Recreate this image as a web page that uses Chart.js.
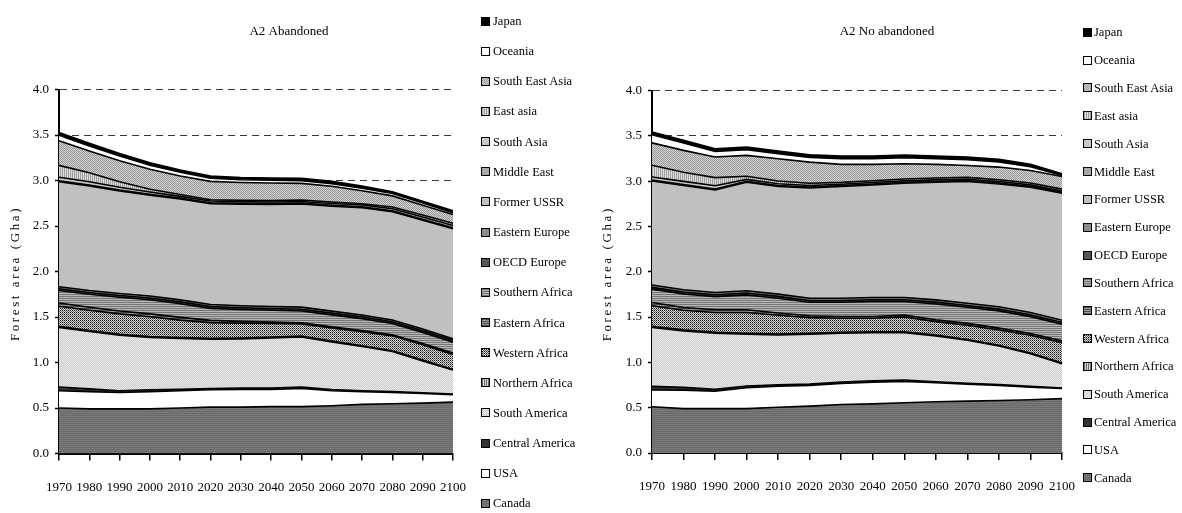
<!DOCTYPE html>
<html><head><meta charset="utf-8">
<script src="https://cdn.jsdelivr.net/npm/chart.js@4.4.1/dist/chart.umd.min.js"></script>
<style>
html,body{margin:0;padding:0;background:#fff;width:1182px;height:513px;overflow:hidden;position:relative;font-family:"Liberation Serif",serif;}
canvas{position:absolute;top:0;}
.lt{position:absolute;font-size:12.5px;line-height:14px;color:#000;white-space:nowrap;}
.sw{position:absolute;width:7px;height:7px;border:1px solid #000;}
</style></head><body>
<canvas id="c1" width="578" height="513" style="left:0px;width:578px;height:513px"></canvas>
<canvas id="c2" width="590" height="513" style="left:592px;width:590px;height:513px"></canvas>
<div id="leg"></div>
<script>
// ---------- DATA ----------
const years = ['1970','1980','1990','2000','2010','2020','2030','2040','2050','2060','2070','2080','2090','2100'];
const regions = ['Canada','USA','Central America','South America','Northern Africa','Western Africa','Eastern Africa','Southern Africa','OECD Europe','Eastern Europe','Former USSR','Middle East','South Asia','East asia','South East Asia','Oceania','Japan'];
const yTickValues = [0,0.5,1,1.5,2,2.5,3,3.5,4];
const chartTitles = ['A2 Abandoned','A2 No abandoned'];
const axisTitle = 'Forest area (Gha)';

// A2 Abandoned (Gha)
const abCanada         = [0.50,0.49,0.49,0.49,0.50,0.51,0.51,0.515,0.515,0.525,0.54,0.547,0.554,0.565];
const abUSA            = [0.19,0.19,0.18,0.19,0.19,0.19,0.195,0.19,0.20,0.165,0.14,0.124,0.106,0.081];
const abCentralAmerica = [0.04,0.03,0.02,0.02,0.015,0.015,0.015,0.015,0.015,0.012,0.01,0.01,0.008,0.006];
const abSouthAmerica   = [0.655,0.63,0.61,0.575,0.56,0.54,0.54,0.55,0.55,0.525,0.485,0.44,0.35,0.265];
const abNorthernAfrica = [0.012,0.012,0.011,0.011,0.01,0.01,0.01,0.01,0.01,0.009,0.009,0.008,0.008,0.007];
const abWesternAfrica  = [0.222,0.223,0.223,0.216,0.191,0.173,0.162,0.148,0.133,0.144,0.155,0.164,0.168,0.165];
const abEasternAfrica  = [0.035,0.033,0.032,0.032,0.03,0.025,0.02,0.016,0.012,0.012,0.012,0.012,0.015,0.016];
const abSouthernAfrica = [0.137,0.142,0.151,0.155,0.15,0.132,0.13,0.13,0.131,0.131,0.131,0.123,0.121,0.119];
const abOECDEurope     = [0.02,0.02,0.02,0.02,0.02,0.02,0.02,0.02,0.02,0.02,0.02,0.02,0.02,0.02];
const abEasternEurope  = [0.022,0.022,0.022,0.022,0.022,0.022,0.022,0.022,0.022,0.022,0.02,0.02,0.018,0.018];
const abFormerUSSR     = [1.153,1.149,1.127,1.108,1.108,1.109,1.116,1.12,1.134,1.153,1.178,1.19,1.196,1.208];
const abMiddleEast     = [0.01,0.01,0.01,0.01,0.01,0.01,0.01,0.01,0.01,0.01,0.01,0.01,0.01,0.01];
const abSouthAsia      = [0.04,0.035,0.03,0.025,0.02,0.018,0.018,0.018,0.018,0.02,0.02,0.022,0.025,0.025];
const abEastAsia       = [0.13,0.10,0.06,0.03,0.02,0.015,0.015,0.015,0.015,0.015,0.015,0.018,0.022,0.025];
const abSouthEastAsia  = [0.271,0.239,0.232,0.219,0.204,0.201,0.195,0.194,0.183,0.173,0.143,0.123,0.107,0.097];
const abOceania        = [0.06,0.055,0.05,0.045,0.04,0.035,0.03,0.03,0.03,0.03,0.028,0.026,0.025,0.02];
const abJapan          = [0.03,0.03,0.028,0.027,0.025,0.025,0.025,0.025,0.025,0.025,0.022,0.02,0.02,0.02];

// A2 No abandoned (Gha)
const noCanada         = [0.51,0.49,0.49,0.49,0.505,0.517,0.535,0.542,0.554,0.565,0.572,0.579,0.587,0.60];
const noUSA            = [0.185,0.204,0.193,0.23,0.233,0.228,0.233,0.24,0.236,0.21,0.188,0.166,0.14,0.112];
const noCentralAmerica = [0.04,0.03,0.02,0.02,0.015,0.015,0.015,0.015,0.015,0.012,0.01,0.01,0.008,0.006];
const noSouthAmerica   = [0.65,0.623,0.618,0.57,0.55,0.55,0.538,0.531,0.523,0.505,0.474,0.426,0.361,0.267];
const noNorthernAfrica = [0.012,0.012,0.011,0.011,0.01,0.01,0.01,0.01,0.01,0.009,0.009,0.008,0.008,0.007];
const noWesternAfrica  = [0.228,0.217,0.218,0.229,0.207,0.174,0.156,0.149,0.164,0.149,0.157,0.169,0.195,0.226];
const noEasternAfrica  = [0.035,0.03,0.03,0.03,0.025,0.02,0.02,0.02,0.02,0.02,0.02,0.02,0.02,0.02];
const noSouthernAfrica = [0.148,0.15,0.146,0.165,0.163,0.149,0.156,0.164,0.149,0.175,0.178,0.19,0.186,0.182];
const noOECDEurope     = [0.02,0.02,0.02,0.02,0.02,0.02,0.02,0.02,0.02,0.02,0.02,0.02,0.02,0.02];
const noEasternEurope  = [0.025,0.025,0.025,0.025,0.025,0.025,0.025,0.025,0.025,0.025,0.025,0.025,0.025,0.025];
const noFormerUSSR     = [1.148,1.151,1.133,1.199,1.188,1.218,1.233,1.243,1.262,1.299,1.343,1.357,1.384,1.402];
const noMiddleEast     = [0.01,0.01,0.01,0.01,0.01,0.01,0.01,0.01,0.01,0.01,0.01,0.01,0.01,0.01];
const noSouthAsia      = [0.035,0.035,0.035,0.02,0.02,0.015,0.015,0.015,0.015,0.015,0.015,0.015,0.015,0.015];
const noEastAsia       = [0.13,0.10,0.09,0.035,0.03,0.025,0.02,0.02,0.02,0.02,0.02,0.02,0.02,0.02];
const noSouthEastAsia  = [0.246,0.242,0.227,0.23,0.246,0.234,0.199,0.181,0.169,0.151,0.132,0.14,0.139,0.14];
const noOceania        = [0.091,0.081,0.062,0.062,0.055,0.051,0.062,0.062,0.066,0.062,0.063,0.057,0.042,0.011];
const noJapan          = [0.03,0.03,0.03,0.03,0.03,0.03,0.03,0.03,0.03,0.03,0.03,0.028,0.025,0.018];

const abandonedSeries = [abCanada,abUSA,abCentralAmerica,abSouthAmerica,abNorthernAfrica,abWesternAfrica,abEasternAfrica,abSouthernAfrica,abOECDEurope,abEasternEurope,abFormerUSSR,abMiddleEast,abSouthAsia,abEastAsia,abSouthEastAsia,abOceania,abJapan];
const noAbandonedSeries = [noCanada,noUSA,noCentralAmerica,noSouthAmerica,noNorthernAfrica,noWesternAfrica,noEasternAfrica,noSouthernAfrica,noOECDEurope,noEasternEurope,noFormerUSSR,noMiddleEast,noSouthAsia,noEastAsia,noSouthEastAsia,noOceania,noJapan];

// ---------- STYLES (fill tiles) ----------
const tiles = {
  'Canada':          {w:1,h:2,px:['#7a7a7a','#6a6a6a']},
  'USA':             {w:1,h:1,px:['#ffffff']},
  'Central America': {w:1,h:1,px:['#333333']},
  'South America':   {w:2,h:2,px:['#e6e6e6','#d0d0d0','#d0d0d0','#e6e6e6']},
  'Northern Africa': {w:2,h:1,px:['#6a6a6a','#d8d8d8']},
  'Western Africa':  {w:2,h:2,px:['#111111','#d6d6d6','#d6d6d6','#6e6e6e']},
  'Eastern Africa':  {w:1,h:2,px:['#505050','#9a9a9a']},
  'Southern Africa': {w:1,h:2,px:['#767676','#b6b6b6']},
  'OECD Europe':     {w:1,h:1,px:['#555555']},
  'Eastern Europe':  {w:1,h:1,px:['#8c8c8c']},
  'Former USSR':     {w:2,h:2,px:['#c4c4c4','#bcbcbc','#bcbcbc','#c4c4c4']},
  'Middle East':     {w:1,h:1,px:['#a8a8a8']},
  'South Asia':      {w:1,h:1,px:['#c8c8c8']},
  'East asia':       {w:2,h:1,px:['#9c9c9c','#dedede']},
  'South East Asia': {w:2,h:2,px:['#989898','#d2d2d2','#d2d2d2','#989898']},
  'Oceania':         {w:1,h:1,px:['#ffffff']},
  'Japan':           {w:1,h:1,px:['#000000']}
};
function tileCanvas(t){
  const c=document.createElement('canvas'); c.width=t.w; c.height=t.h;
  const x=c.getContext('2d');
  for(let j=0;j<t.h;j++) for(let i=0;i<t.w;i++){ x.fillStyle=t.px[j*t.w+i]; x.fillRect(i,j,1,1); }
  return c;
}

const FONT = '"Liberation Serif", "Times New Roman", serif';
Chart.defaults.font.family = FONT;
Chart.defaults.color = '#000';

const textPlugin = {
  id: 'texts',
  afterDraw(chart, args, o){
    const ctx = chart.ctx;
    ctx.save();
    ctx.fillStyle = '#000';
    ctx.font = '13px ' + FONT;
    ctx.textAlign = 'center'; ctx.textBaseline = 'middle';
    ctx.fillText(o.title, o.titleX, o.titleY);
    ctx.translate(o.axisX, (chart.chartArea.top + chart.chartArea.bottom)/2 + 2);
    ctx.rotate(-Math.PI/2);
    try { ctx.letterSpacing = '2.6px'; } catch(e) {}
    ctx.font = '13px ' + FONT;
    ctx.fillText(o.axisTitle, 0, 0);
    ctx.restore();
  }
};

function makeChart(id, series, title, geo){
  const canvas = document.getElementById(id);
  const ctx = canvas.getContext('2d');
  const datasets = regions.map((name, i) => ({
    label: name,
    data: series[i],
    backgroundColor: ctx.createPattern(tileCanvas(tiles[name]), 'repeat'),
    borderColor: '#000',
    borderWidth: 1.6,
    fill: i === 0 ? 'origin' : '-1',
    pointRadius: 0,
    tension: 0
  }));
  return new Chart(ctx, {
    type: 'line',
    data: { labels: years, datasets },
    plugins: [textPlugin],
    options: {
      responsive: false,
      animation: false,
      events: [],
      layout: { padding: { left: 0, right: geo.padRight, top: geo.top, bottom: 0 } },
      plugins: {
        legend: { display: false },
        tooltip: { enabled: false },
        title: { display: false },
        texts: { title: title, titleX: geo.titleX, titleY: 32, axisX: 16, axisTitle: axisTitle }
      },
      scales: {
        x: {
          offset: false,
          grid: { display: true, drawOnChartArea: false, drawTicks: true, tickLength: 7, color: '#000', lineWidth: 1.5 },
          border: { display: true, color: '#000', width: 2 },
          ticks: { autoSkip: false, maxRotation: 0, minRotation: 0, padding: 19, color: '#000', font: { size: 13, family: FONT } },
          afterFit(s){ s.height = 513 - geo.bottom; }
        },
        y: {
          stacked: true,
          min: 0, max: 4,
          afterBuildTicks(s){ s.ticks = yTickValues.map(v => ({ value: v })); },
          ticks: { padding: 6, color: '#000', font: { size: 13, family: FONT }, callback: v => Number(v).toFixed(1) },
          grid: { color: '#3a3a3a', lineWidth: 1, drawTicks: true, tickLength: 4, tickColor: '#000', tickWidth: 1.5, tickBorderDash: [] },
          border: { display: true, color: '#000', width: 2, dash: [7,5] },
          afterFit(s){ s.width = geo.left; }
        }
      }
    }
  });
}

makeChart('c1', abandonedSeries, chartTitles[0], { left: 59, padRight: 125, top: 89.5, bottom: 453.5, titleX: 289 });
makeChart('c2', noAbandonedSeries, chartTitles[1], { left: 60, padRight: 120, top: 90.5, bottom: 453, titleX: 295 });

// ---------- LEGENDS ----------
const leg = document.getElementById('leg');
const order = regions.slice().reverse();
function buildLegend(boxX, textX, y0, step){
  order.forEach((name, i) => {
    const cy = y0 + i*step;
    const sw = document.createElement('div');
    sw.className = 'sw';
    sw.style.left = boxX + 'px'; sw.style.top = (cy - 4.5) + 'px';
    sw.style.backgroundImage = 'url(' + tileCanvas(tiles[name]).toDataURL() + ')';
    leg.appendChild(sw);
    const t = document.createElement('div');
    t.className = 'lt'; t.textContent = name;
    t.style.left = textX + 'px'; t.style.top = (cy - 7) + 'px';
    leg.appendChild(t);
  });
}
buildLegend(481, 493, 21, 30.15);
buildLegend(1083, 1094, 32.3, 27.84);
</script>
</body></html>
